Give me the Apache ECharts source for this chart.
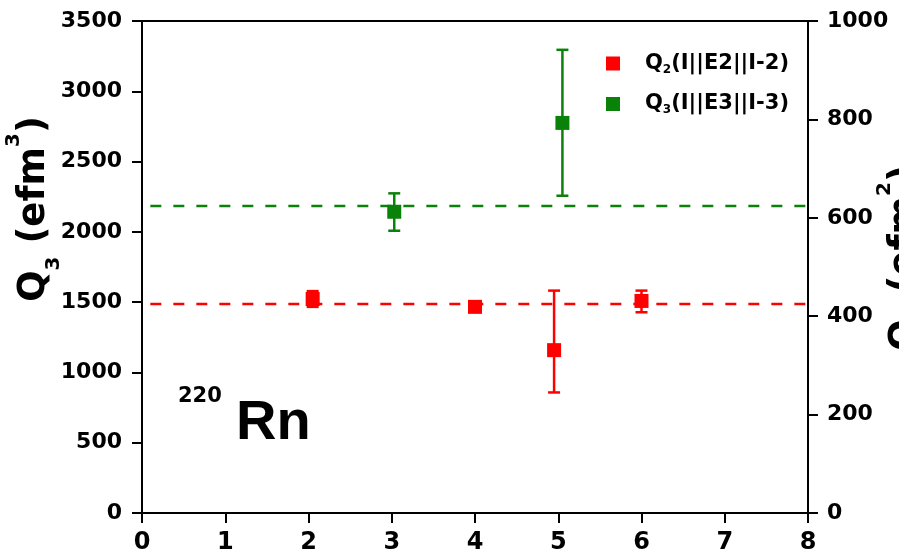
<!DOCTYPE html>
<html>
<head>
<meta charset="utf-8">
<script src="https://cdn.jsdelivr.net/npm/echarts@6/dist/echarts.min.js"></script>
<style>
  html, body { margin: 0; padding: 0; background: #fff; }
  #chart { width: 899px; height: 559px; }
</style>
</head>
<body>
<div id="chart"></div>
<script>
// Q2 (right axis, efm^2)
const q2X = [2.05, 4.0, 4.95, 6.0];
const q2Val = [435, 419, 331, 431];
const q2Low = [419, 414, 245, 408];
const q2High = [451, 424, 452, 452];
const q2Mean = 425;

// Q3 (left axis, efm^3)
const q3X = [3.03, 5.05];
const q3Val = [2143, 2775];
const q3Low = [2008, 2257];
const q3High = [2274, 3295];
const q3Mean = 2184;

const meanSpan = [0.1, 8];

const RED = '#ff0000';
const GREEN = '#0a820a';
const FONT = 'DejaVu Sans';

// 误差棒
function errorBar(color) {
    return function (params, api) {
        const x = api.value(0);
        const lo = api.coord([x, api.value(2)]);
        const hi = api.coord([x, api.value(3)]);
        const w = 6;
        const st = { stroke: color, lineWidth: 2.5 };
        return {
            type: 'group',
            children: [
                { type: 'line', shape: { x1: lo[0], y1: lo[1], x2: hi[0], y2: hi[1] }, style: st },
                { type: 'line', shape: { x1: lo[0] - w, y1: lo[1], x2: lo[0] + w, y2: lo[1] }, style: st },
                { type: 'line', shape: { x1: hi[0] - w, y1: hi[1], x2: hi[0] + w, y2: hi[1] }, style: st }
            ]
        };
    };
}

const q2Pts = q2X.map((x, i) => [x, q2Val[i]]);
const q3Pts = q3X.map((x, i) => [x, q3Val[i]]);
const q2Err = q2X.map((x, i) => [x, q2Val[i], q2Low[i], q2High[i]]);
const q3Err = q3X.map((x, i) => [x, q3Val[i], q3Low[i], q3High[i]]);

const axisLabelStyle = {
    color: '#000', fontFamily: FONT, fontWeight: 'bold', fontSize: 22,
    formatter: v => String(v)
};
const axisLine = { show: true, lineStyle: { color: '#000', width: 2 } };
const axisTick = { show: true, inside: false, length: 10, lineStyle: { color: '#000', width: 2 } };

function titleRich(color) {
    return {
        q: { fontFamily: FONT, fontWeight: 'bold', fontSize: 37, color: color, lineHeight: 60 },
        sub: { fontFamily: FONT, fontWeight: 'bold', fontSize: 20, color: color, lineHeight: 20, verticalAlign: 'bottom' },
        sup: { fontFamily: FONT, fontWeight: 'bold', fontSize: 20, color: color, lineHeight: 40, verticalAlign: 'top' }
    };
}

const chart = echarts.init(document.getElementById('chart'));
chart.setOption({
    backgroundColor: '#fff',
    animation: false,
    grid: { left: 142, right: 91, top: 21, bottom: 46, show: true, borderColor: '#000', borderWidth: 2 },
    legend: {
        orient: 'vertical',
        left: 606,
        top: 53,
        padding: 0,
        itemWidth: 14,
        itemHeight: 14,
        itemGap: 18,
        icon: 'rect',
        data: ['Q2', 'Q3'],
        formatter: function (name) {
            const n = name === 'Q2' ? '2' : '3';
            return '{p|Q}{s|' + n + '}{q|(I||E' + n + '||I-' + n + ')}';
        },
        textStyle: {
            rich: {
                p: { fontFamily: FONT, fontWeight: 'bold', fontSize: 21, color: '#000', lineHeight: 24, padding: [0, 0, 0, 20] },
                q: { fontFamily: FONT, fontWeight: 'bold', fontSize: 21, color: '#000', lineHeight: 24 },
                s: { fontFamily: FONT, fontWeight: 'bold', fontSize: 12, color: '#000', lineHeight: 10, verticalAlign: 'bottom' }
            }
        }
    },
    xAxis: {
        type: 'value',
        min: 0,
        max: 8,
        interval: 1,
        splitLine: { show: false },
        axisLine: axisLine,
        axisTick: axisTick,
        axisLabel: Object.assign({}, axisLabelStyle, { margin: 18, fontSize: 24 })
    },
    yAxis: [
        {
            type: 'value',
            position: 'left',
            min: 0,
            max: 3500,
            interval: 500,
            splitLine: { show: false },
            axisLine: axisLine,
            axisTick: axisTick,
            axisLabel: Object.assign({ margin: 20 }, axisLabelStyle)
        },
        {
            type: 'value',
            position: 'right',
            min: 0,
            max: 1000,
            interval: 200,
            splitLine: { show: false },
            axisLine: axisLine,
            axisTick: axisTick,
            axisLabel: Object.assign({ margin: 19 }, axisLabelStyle)
        }
    ],
    graphic: [
        {
            type: 'text',
            x: 34, y: 209,
            rotation: Math.PI / 2,
            style: {
                text: '{q|Q}{sub|3}{q| (efm}{sup|3}{q|)}',
                rich: titleRich(GREEN),
                align: 'center',
                verticalAlign: 'middle'
            }
        },
        {
            type: 'text',
            x: 905, y: 258,
            rotation: Math.PI / 2,
            style: {
                text: '{q|Q}{sub|2}{q| (efm}{sup|2}{q|)}',
                rich: titleRich(RED),
                align: 'center',
                verticalAlign: 'middle'
            }
        },
        {
            type: 'text',
            x: 178, y: 397,
            style: {
                text: '220',
                font: 'bold 21px "DejaVu Sans"',
                fill: '#000',
                align: 'left',
                verticalAlign: 'middle'
            }
        },
        {
            type: 'text',
            x: 236, y: 424,
            style: {
                text: 'Rn',
                font: 'bold 56px "Liberation Sans"',
                fill: '#000',
                align: 'left',
                verticalAlign: 'middle'
            }
        }
    ],
    series: [
        {
            name: 'Q3 mean',
            type: 'line',
            yAxisIndex: 0,
            data: meanSpan.map(x => [x, q3Mean]),
            symbol: 'none',
            lineStyle: { color: GREEN, width: 2.5, type: [11, 12] },
            z: 1
        },
        {
            name: 'Q2 mean',
            type: 'line',
            yAxisIndex: 1,
            data: meanSpan.map(x => [x, q2Mean]),
            symbol: 'none',
            lineStyle: { color: RED, width: 2.5, type: [11, 12] },
            z: 1
        },
        {
            name: 'Q2 err',
            type: 'custom',
            yAxisIndex: 1,
            renderItem: errorBar(RED),
            encode: { x: 0, y: [2, 3] },
            data: q2Err,
            clip: false,
            z: 2
        },
        {
            name: 'Q3 err',
            type: 'custom',
            yAxisIndex: 0,
            renderItem: errorBar(GREEN),
            encode: { x: 0, y: [2, 3] },
            data: q3Err,
            clip: false,
            z: 2
        },
        {
            name: 'Q2',
            type: 'scatter',
            yAxisIndex: 1,
            symbol: 'rect',
            symbolSize: 14,
            itemStyle: { color: RED, opacity: 1 },
            data: q2Pts,
            z: 3
        },
        {
            name: 'Q3',
            type: 'scatter',
            yAxisIndex: 0,
            symbol: 'rect',
            symbolSize: 14,
            itemStyle: { color: GREEN, opacity: 1 },
            data: q3Pts,
            z: 3
        }
    ]
});
</script>
</body>
</html>
